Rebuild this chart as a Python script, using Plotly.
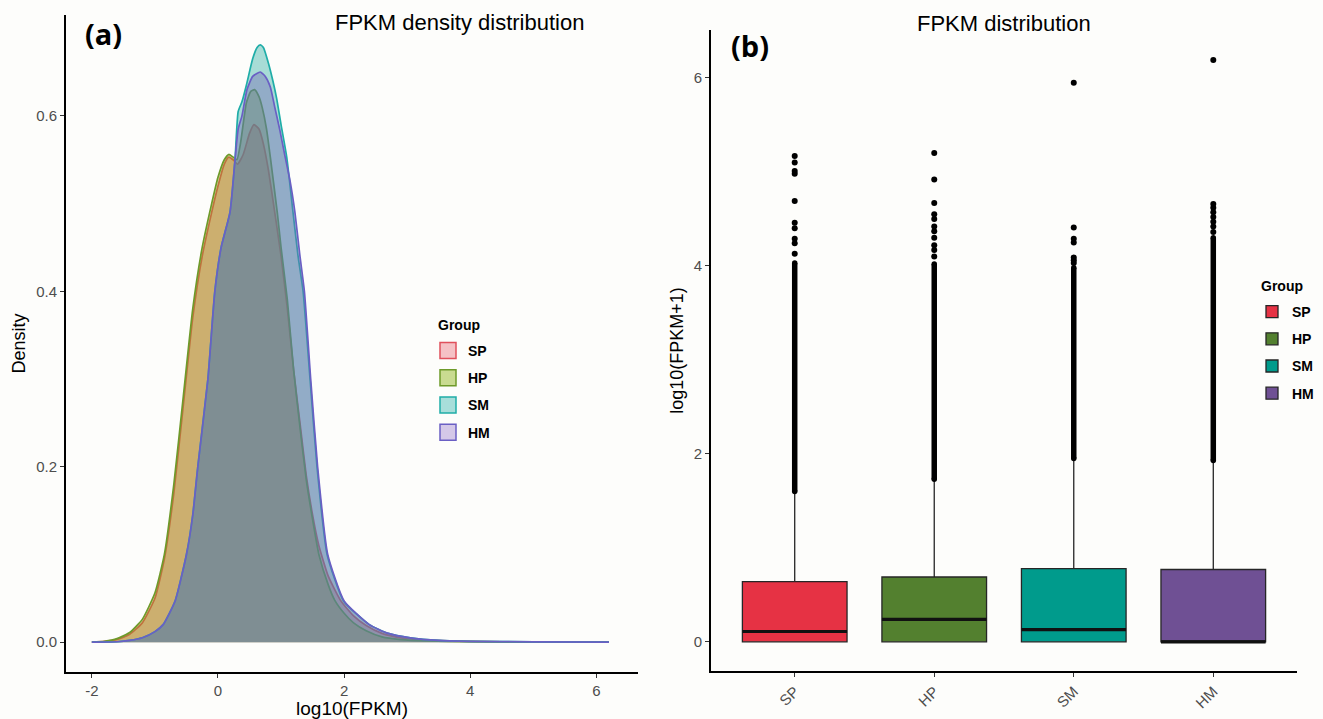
import plotly.graph_objects as go

W, H = 1323, 719

groups = ["SP", "HP", "SM", "HM"]

# ---- panel (a): density curves ----
sp_x = [-2.0, -1.8, -1.6, -1.4, -1.2, -1.0, -0.85, -0.7, -0.55, -0.4, -0.25, -0.1, 0.0, 0.1, 0.17, 0.24,
        0.31, 0.4, 0.5, 0.57, 0.65, 0.72, 0.8, 0.9, 1.0, 1.1, 1.2, 1.3, 1.4, 1.5, 1.6, 1.75, 1.95, 2.15,
        2.35, 2.6, 2.9, 3.3, 3.8, 4.5, 5.5, 6.2]
sp_y = [0.0, 0.001, 0.003, 0.009, 0.022, 0.05, 0.095, 0.17, 0.27, 0.37, 0.44, 0.49, 0.52, 0.545, 0.553,
        0.55, 0.545, 0.556, 0.58, 0.59, 0.585, 0.568, 0.538, 0.49, 0.44, 0.38, 0.31, 0.25, 0.19, 0.145,
        0.11, 0.075, 0.047, 0.03, 0.019, 0.01, 0.005, 0.0025, 0.0012, 0.0005, 0.0002, 0.0]

hp_x = [-2.0, -1.8, -1.6, -1.4, -1.2, -1.0, -0.85, -0.7, -0.55, -0.4, -0.25, -0.1, 0.0, 0.1, 0.17, 0.24,
        0.3, 0.36, 0.45, 0.52, 0.58, 0.65, 0.7, 0.77, 0.83, 0.94, 1.0, 1.1, 1.2, 1.3, 1.4, 1.5, 1.6, 1.75,
        1.85, 2.0, 2.15, 2.35, 2.6, 2.9, 3.3, 4.0, 5.0, 6.2]
hp_y = [0.0, 0.001, 0.004, 0.011, 0.026, 0.056, 0.1, 0.18, 0.28, 0.38, 0.45, 0.5, 0.53, 0.55, 0.556,
        0.553, 0.55, 0.57, 0.615, 0.628, 0.63, 0.622, 0.61, 0.585, 0.553, 0.49, 0.45, 0.39, 0.31, 0.245,
        0.185, 0.14, 0.1, 0.065, 0.048, 0.033, 0.022, 0.013, 0.006, 0.003, 0.0015, 0.0006, 0.0002, 0.0]

sm_x = [-2.0, -1.6, -1.4, -1.2, -1.0, -0.87, -0.68, -0.5, -0.4, -0.32, -0.16, -0.05, 0.05, 0.19, 0.27,
        0.32, 0.38, 0.45, 0.55, 0.62, 0.67, 0.72, 0.8, 0.87, 0.93, 1.0, 1.09, 1.19, 1.27, 1.35, 1.46, 1.57,
        1.73, 1.99, 2.4, 2.7, 3.05, 3.5, 4.0, 5.0, 6.2]
sm_y = [0.0, 0.0005, 0.002, 0.005, 0.012, 0.02, 0.047, 0.1, 0.145, 0.2, 0.3, 0.4, 0.45, 0.49, 0.55,
        0.605, 0.616, 0.635, 0.665, 0.678, 0.681, 0.678, 0.66, 0.64, 0.62, 0.59, 0.553, 0.49, 0.44, 0.4,
        0.3, 0.2, 0.1, 0.047, 0.02, 0.01, 0.005, 0.002, 0.001, 0.0003, 0.0]

hm_x = [-2.0, -1.6, -1.4, -1.2, -1.0, -0.87, -0.68, -0.5, -0.4, -0.32, -0.16, -0.05, 0.05, 0.19, 0.27,
        0.32, 0.38, 0.46, 0.55, 0.67, 0.75, 0.83, 0.9, 0.98, 1.06, 1.14, 1.22, 1.3, 1.37, 1.47, 1.58,
        1.74, 2.0, 2.4, 2.7, 3.05, 3.5, 4.0, 5.0, 6.2]
hm_y = [0.0, 0.0005, 0.002, 0.005, 0.012, 0.02, 0.047, 0.1, 0.145, 0.2, 0.3, 0.4, 0.45, 0.49, 0.55,
        0.585, 0.6, 0.63, 0.645, 0.65, 0.645, 0.633, 0.61, 0.584, 0.555, 0.527, 0.49, 0.44, 0.4, 0.3,
        0.2, 0.1, 0.047, 0.02, 0.01, 0.005, 0.002, 0.001, 0.0003, 0.0]

dens_x = [sp_x, hp_x, sm_x, hm_x]
dens_y = [sp_y, hp_y, sm_y, hm_y]

x_ticks_a = [-2, 0, 2, 4, 6]
x_ticklabels_a = ["-2", "0", "2", "4", "6"]
y_ticks_a = [0.0, 0.2, 0.4, 0.6]
y_ticklabels_a = ["0.0", "0.2", "0.4", "0.6"]

# ---- panel (b): box statistics ----
box_q1 = [0.0, 0.0, 0.0, 0.0]
box_median = [0.11, 0.24, 0.13, 0.0]
box_q3 = [0.64, 0.69, 0.78, 0.77]
box_upper = [1.60, 1.73, 1.95, 1.93]
dense_top = [4.03, 4.02, 3.98, 4.30]   # outliers form a solid column up to here
sp_out = [4.13, 4.24, 4.29, 4.40, 4.46, 4.69, 4.98, 5.01, 5.10, 5.17]
hp_out = [4.10, 4.17, 4.22, 4.30, 4.37, 4.42, 4.50, 4.55, 4.67, 4.92, 5.20]
sm_out = [4.03, 4.06, 4.09, 4.25, 4.29, 4.41, 5.95]
hm_out = [4.36, 4.42, 4.47, 4.52, 4.57, 4.62, 4.66, 6.19]
outliers = [sp_out, hp_out, sm_out, hm_out]

y_ticks_b = [0, 2, 4, 6]
y_ticklabels_b = ["0", "2", "4", "6"]

# ---- styles ----
line_a = ["#E0505C", "#6E9A2A", "#1FADA8", "#6A5FC4"]
fill_a = ["rgba(236,78,70,0.40)", "rgba(145,165,20,0.42)", "rgba(27,165,155,0.38)", "rgba(115,100,178,0.40)"]
legend_fill_a = ["rgba(236,120,130,0.45)", "rgba(150,185,40,0.5)", "rgba(40,175,170,0.4)", "rgba(150,120,205,0.4)"]
box_fill = ["#E63244", "#53802F", "#009B8C", "#6F5094"]
BOX_W = 0.75

fig = go.Figure()

for i, g in enumerate(groups):
    fig.add_trace(go.Scatter(
        x=dens_x[i], y=dens_y[i], name=g, mode="lines",
        fill="toself", fillcolor=fill_a[i],
        line=dict(color=line_a[i], width=1.7, shape="spline", smoothing=0.5),
        xaxis="x", yaxis="y", showlegend=False, hoverinfo="skip"))

# legend keys for panel (a): filled squares with coloured outline
for i, g in enumerate(groups):
    fig.add_trace(go.Scatter(
        x=[None], y=[None], name="<b>" + g + "</b>", mode="markers",
        marker=dict(symbol="square", size=26, color=legend_fill_a[i],
                    line=dict(color=line_a[i], width=1.5)),
        xaxis="x", yaxis="y", legend="legend", legendgroup="a" + g))

for i, g in enumerate(groups):
    fig.add_trace(go.Box(
        x=[i], q1=[box_q1[i]], median=[box_median[i]], q3=[box_q3[i]],
        lowerfence=[box_q1[i]], upperfence=[box_upper[i]],
        width=BOX_W, fillcolor=box_fill[i], whiskerwidth=0,
        line=dict(color="#262626", width=1.3), boxpoints=False,
        name="<b>" + g + "</b>", xaxis="x2", yaxis="y2", legend="legend2", legendgroup="b" + g,
        hoverinfo="skip"))

for i, g in enumerate(groups):
    # thick median line like ggplot
    fig.add_trace(go.Scatter(
        x=[i - BOX_W / 2, i + BOX_W / 2], y=[box_median[i], box_median[i]],
        mode="lines", line=dict(color="#111111", width=3.2),
        showlegend=False, xaxis="x2", yaxis="y2", hoverinfo="skip"))
    # dense column of outliers
    fig.add_trace(go.Scatter(
        x=[i, i], y=[box_upper[i], dense_top[i]], mode="lines+markers",
        line=dict(color="black", width=5.5), marker=dict(color="black", size=5.5),
        showlegend=False, xaxis="x2", yaxis="y2", hoverinfo="skip"))
    fig.add_trace(go.Scatter(
        x=[i] * len(outliers[i]), y=outliers[i], mode="markers",
        marker=dict(color="black", size=6),
        showlegend=False, xaxis="x2", yaxis="y2", hoverinfo="skip"))

FONT = "Liberation Sans, Arial, sans-serif"
tickfont = dict(family=FONT, size=15, color="#4d4d4d")
axis_common = dict(showline=True, linecolor="black", linewidth=1.7, ticks="outside",
                   ticklen=4, tickwidth=1, tickcolor="#333333", showgrid=False,
                   zeroline=False, tickfont=tickfont)


def px(x):
    return x / W


def py(y):
    return 1 - y / H


legend_common = dict(xanchor="left", yanchor="top", bgcolor="rgba(0,0,0,0)",
                     font=dict(size=14, family=FONT, color="black"),
                     tracegroupgap=6, itemwidth=30)

fig.update_layout(
    width=W, height=H,
    margin=dict(l=0, r=0, t=0, b=0),
    paper_bgcolor="#fdfdfb", plot_bgcolor="#fdfdfb",
    font=dict(family=FONT, size=13, color="black"),
    showlegend=True,
    xaxis=dict(domain=[px(66), px(638)], range=[-2.41, 6.66], anchor="y",
               tickvals=x_ticks_a, ticktext=x_ticklabels_a,
               title=dict(text="log10(FPKM)", font=dict(size=19, family=FONT), standoff=0),
               **axis_common),
    yaxis=dict(domain=[py(672), py(15)], range=[-0.034, 0.715], anchor="x",
               tickvals=y_ticks_a, ticktext=y_ticklabels_a,
               title=dict(text="Density", font=dict(size=18, family=FONT), standoff=6),
               **axis_common),
    xaxis2=dict(domain=[px(711), px(1297)], range=[-0.6, 3.6], anchor="y2",
                tickvals=list(range(len(groups))), ticktext=groups, tickangle=-45,
                **axis_common),
    yaxis2=dict(domain=[py(671), py(30)], range=[-0.31, 6.51], anchor="x2",
                tickvals=y_ticks_b, ticktext=y_ticklabels_b,
                title=dict(text="log10(FPKM+1)", font=dict(size=18, family=FONT), standoff=6),
                **axis_common),
    legend=dict(x=px(428), y=py(335), **legend_common),
    legend2=dict(x=px(1252), y=py(296), **legend_common),
    annotations=[
        dict(text="FPKM density distribution", x=px(459), y=py(22), xref="paper", yref="paper",
             xanchor="center", yanchor="middle",
             showarrow=False, font=dict(size=22, family=FONT, color="black")),
        dict(text="<b>(a)</b>", x=px(103), y=py(33), xref="paper", yref="paper",
             xanchor="center", yanchor="middle",
             showarrow=False, font=dict(size=29, family="Open Sans, sans-serif", color="black")),
        dict(text="FPKM distribution", x=px(1004), y=py(23), xref="paper", yref="paper",
             xanchor="center", yanchor="middle",
             showarrow=False, font=dict(size=22, family=FONT, color="black")),
        dict(text="<b>(b)</b>", x=px(750), y=py(45), xref="paper", yref="paper",
             xanchor="center", yanchor="middle",
             showarrow=False, font=dict(size=29, family="Open Sans, sans-serif", color="black")),
        dict(text="<b>Group</b>", x=px(436), y=py(325), xref="paper", yref="paper",
             xanchor="left", yanchor="middle",
             showarrow=False, font=dict(size=14, family=FONT, color="black")),
        dict(text="<b>Group</b>", x=px(1259), y=py(286), xref="paper", yref="paper",
             xanchor="left", yanchor="middle",
             showarrow=False, font=dict(size=14, family=FONT, color="black")),
    ],
)

fig.write_html("out.html", config={"displayModeBar": False},
               post_script="document.body.style.margin='0px';")
